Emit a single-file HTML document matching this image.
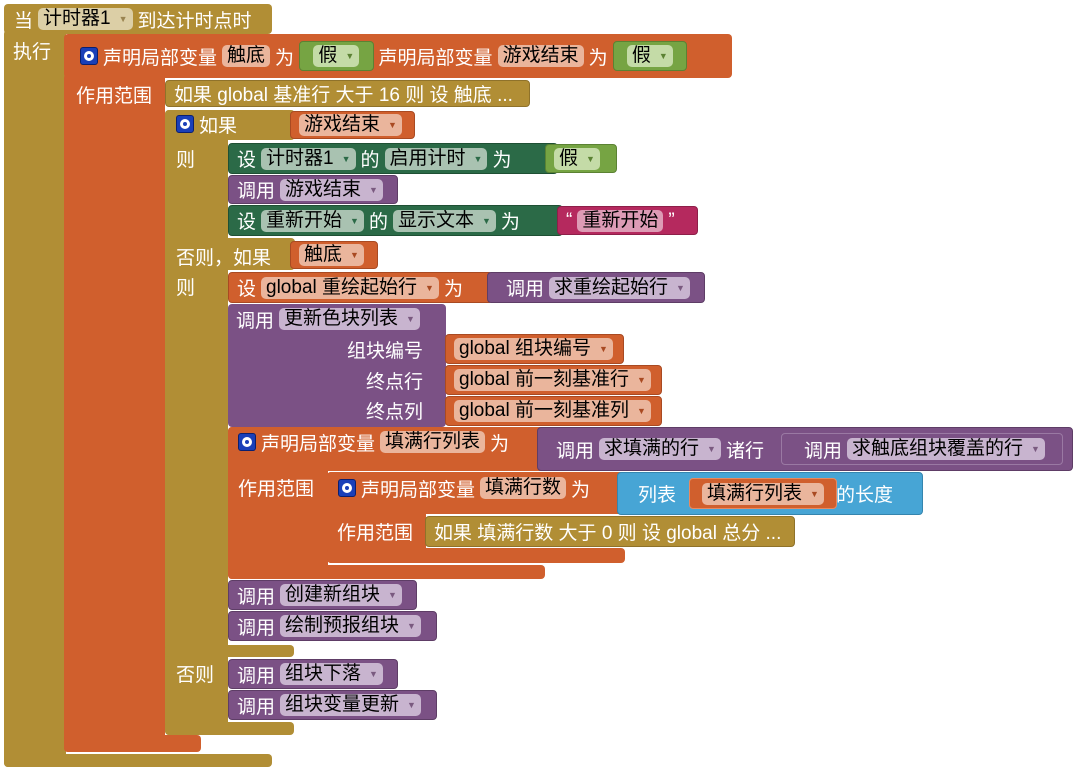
<!DOCTYPE html>
<html><head><meta charset="utf-8"><style>
body{margin:0;width:1076px;height:770px;background:#fff;position:relative;overflow:hidden;font-family:"Liberation Sans","Noto Sans CJK SC",sans-serif;font-size:19px;color:#fff}
.b{position:absolute;box-sizing:border-box;border-radius:4px;border:none !important}
.r{position:absolute;display:flex;align-items:center;gap:5px;white-space:nowrap;box-sizing:border-box;padding-left:8px;border-radius:4px}
.g{background:#b18e35;border:1px solid #8f722a}
.o{background:#d05f2d;border:1px solid #a94a22}
.p{background:#7b5185;border:1px solid #5e3d66}
.dg{background:#2b6a47;border:1px solid #1f5034}
.lg{background:#76a443;border:1px solid #5b8233}
.bl{background:#47a5d5;border:1px solid #3585ae}
.pk{background:#b5295e;border:1px solid #8d1f49}
.f{border-radius:5px;padding:0 5px;color:#000;line-height:22px;height:22px;display:inline-flex;align-items:center;gap:8px}
.fg{background:#dccfa6}.fo{background:#eab59c}.fp{background:#c8b4cf}.fd{background:#a9c2b1}.fl{background:#c4dba7}
.ar{font-size:9px;color:#7a5a80}
.t{position:absolute;white-space:nowrap}
.gear{display:inline-block;width:18px;height:18px;background:#1a3fb8;border:1px solid #0a1f70;border-radius:3px;box-sizing:border-box;position:relative}
.gear:after{content:"";position:absolute;left:3px;top:3px;border:3px solid #fff;border-radius:50%;box-sizing:content-box;width:4px;height:4px}
.in{position:relative;display:inline-flex;padding:3px 8px;border-radius:4px}
</style></head><body>
<div class="b g" style="left:4px;top:4px;width:268px;height:30px"></div>
<div class="b g" style="left:4px;top:30px;width:62px;height:737px"></div>
<div class="b g" style="left:4px;top:754px;width:268px;height:13px"></div>
<div class="r" style="left:4px;top:6px;height:26px;padding-left:10px">当 <span class="f fg">计时器1 <span class="ar" style="color:#9a8450">▼</span></span> 到达计时点时</div>
<div class="t" style="left:13px;top:37px">执行</div>
<div class="b o" style="left:64px;top:34px;width:668px;height:44px"></div>
<div class="b o" style="left:64px;top:74px;width:101px;height:678px"></div>
<div class="b o" style="left:64px;top:735px;width:137px;height:17px"></div>
<div class="r" style="left:72px;top:41px;height:30px;gap:5px"><span class="gear"></span> 声明局部变量 <span class="f fo">触底</span> 为 <span class="in lg">&nbsp;<span class="f fl">假 <span class="ar" style="color:#5b8233">▼</span></span>&nbsp;</span> 声明局部变量 <span class="f fo">游戏结束</span> 为 <span class="in lg">&nbsp;<span class="f fl">假 <span class="ar" style="color:#5b8233">▼</span></span>&nbsp;</span></div>
<div class="t" style="left:76px;top:81px">作用范围</div>
<div class="r g" style="left:165px;top:80px;width:365px;height:27px">如果 global 基准行 大于 16 则 设 触底 ...</div>
<div class="b g" style="left:165px;top:110px;width:130px;height:30px"></div>
<div class="b g" style="left:165px;top:110px;width:63px;height:625px"></div>
<div class="b g" style="left:165px;top:238px;width:130px;height:32px"></div>
<div class="b g" style="left:165px;top:645px;width:129px;height:12px"></div>
<div class="b g" style="left:165px;top:722px;width:129px;height:13px"></div>
<div class="r" style="left:168px;top:111px;height:26px"><span class="gear"></span> 如果</div>
<div class="r o" style="left:290px;top:111px;width:125px;height:28px"><span class="f fo">游戏结束 <span class="ar" style="color:#a94a22">▼</span></span></div>
<div class="t" style="left:176px;top:145px">则</div>
<div class="r dg" style="left:228px;top:143px;width:330px;height:31px">设 <span class="f fd">计时器1 <span class="ar" style="color:#2b6a47">▼</span></span> 的 <span class="f fd">启用计时 <span class="ar" style="color:#2b6a47">▼</span></span> 为</div>
<div class="r lg" style="left:545px;top:144px;width:72px;height:29px"><span class="f fl">假 <span class="ar" style="color:#5b8233">▼</span></span></div>
<div class="r p" style="left:228px;top:175px;width:170px;height:29px">调用 <span class="f fp">游戏结束 <span class="ar">▼</span></span></div>
<div class="r dg" style="left:228px;top:205px;width:335px;height:31px">设 <span class="f fd">重新开始 <span class="ar" style="color:#2b6a47">▼</span></span> 的 <span class="f fd">显示文本 <span class="ar" style="color:#2b6a47">▼</span></span> 为</div>
<div class="r pk" style="left:557px;top:206px;width:141px;height:29px">“ <span class="f" style="background:#dd9bb5">重新开始</span> ”</div>
<div class="t" style="left:176px;top:243px">否则，如果</div>
<div class="r o" style="left:290px;top:241px;width:88px;height:28px"><span class="f fo">触底 <span class="ar" style="color:#a94a22">▼</span></span></div>
<div class="t" style="left:176px;top:273px">则</div>
<div class="r o" style="left:228px;top:272px;width:265px;height:31px">设 <span class="f fo">global 重绘起始行 <span class="ar" style="color:#a94a22">▼</span></span> 为</div>
<div class="r p" style="left:487px;top:272px;width:218px;height:31px;padding-left:18px">调用 <span class="f fp">求重绘起始行 <span class="ar">▼</span></span></div>
<div class="b p" style="left:228px;top:304px;width:218px;height:123px"></div>
<div class="r" style="left:228px;top:305px;height:28px">调用 <span class="f fp">更新色块列表 <span class="ar">▼</span></span></div>
<div class="t" style="left:347px;top:336px">组块编号</div>
<div class="t" style="left:366px;top:367px">终点行</div>
<div class="t" style="left:366px;top:397px">终点列</div>
<div class="r o" style="left:445px;top:334px;width:179px;height:30px"><span class="f fo">global 组块编号 <span class="ar" style="color:#a94a22">▼</span></span></div>
<div class="r o" style="left:445px;top:365px;width:217px;height:30px"><span class="f fo">global 前一刻基准行 <span class="ar" style="color:#a94a22">▼</span></span></div>
<div class="r o" style="left:445px;top:396px;width:217px;height:30px"><span class="f fo">global 前一刻基准列 <span class="ar" style="color:#a94a22">▼</span></span></div>
<div class="b o" style="left:228px;top:427px;width:317px;height:44px"></div>
<div class="b o" style="left:228px;top:427px;width:100px;height:152px"></div>
<div class="b o" style="left:228px;top:565px;width:317px;height:14px"></div>
<div class="r" style="left:230px;top:427px;height:30px"><span class="gear"></span> 声明局部变量 <span class="f fo">填满行列表</span> 为</div>
<div class="r p" style="left:537px;top:427px;width:536px;height:44px;padding-left:18px">调用 <span class="f fp">求填满的行 <span class="ar">▼</span></span> 诸行</div>
<div class="r p" style="left:781px;top:433px;width:282px;height:32px;padding-left:22px;border-color:#9a79a3">调用 <span class="f fp">求触底组块覆盖的行 <span class="ar">▼</span></span></div>
<div class="t" style="left:238px;top:474px">作用范围</div>
<div class="b o" style="left:327px;top:472px;width:298px;height:42px"></div>
<div class="b o" style="left:327px;top:472px;width:99px;height:91px"></div>
<div class="b o" style="left:327px;top:548px;width:298px;height:15px"></div>
<div class="r" style="left:330px;top:473px;height:30px"><span class="gear"></span> 声明局部变量 <span class="f fo">填满行数</span> 为</div>
<div class="r bl" style="left:617px;top:472px;width:306px;height:43px;padding-left:20px;gap:8px">列表 <span style="width:144px"></span> 的长度</div>
<div class="r o" style="left:689px;top:478px;width:148px;height:31px;padding-left:12px;border-color:#e88a60"><span class="f fo">填满行列表 <span class="ar" style="color:#a94a22">▼</span></span></div>
<div class="t" style="left:337px;top:518px">作用范围</div>
<div class="r g" style="left:425px;top:516px;width:370px;height:31px">如果 填满行数 大于 0 则 设 global 总分 ...</div>
<div class="r p" style="left:228px;top:580px;width:189px;height:30px">调用 <span class="f fp">创建新组块 <span class="ar">▼</span></span></div>
<div class="r p" style="left:228px;top:611px;width:209px;height:30px">调用 <span class="f fp">绘制预报组块 <span class="ar">▼</span></span></div>
<div class="t" style="left:176px;top:660px">否则</div>
<div class="r p" style="left:228px;top:659px;width:170px;height:30px">调用 <span class="f fp">组块下落 <span class="ar">▼</span></span></div>
<div class="r p" style="left:228px;top:690px;width:209px;height:30px">调用 <span class="f fp">组块变量更新 <span class="ar">▼</span></span></div>
</body></html>
